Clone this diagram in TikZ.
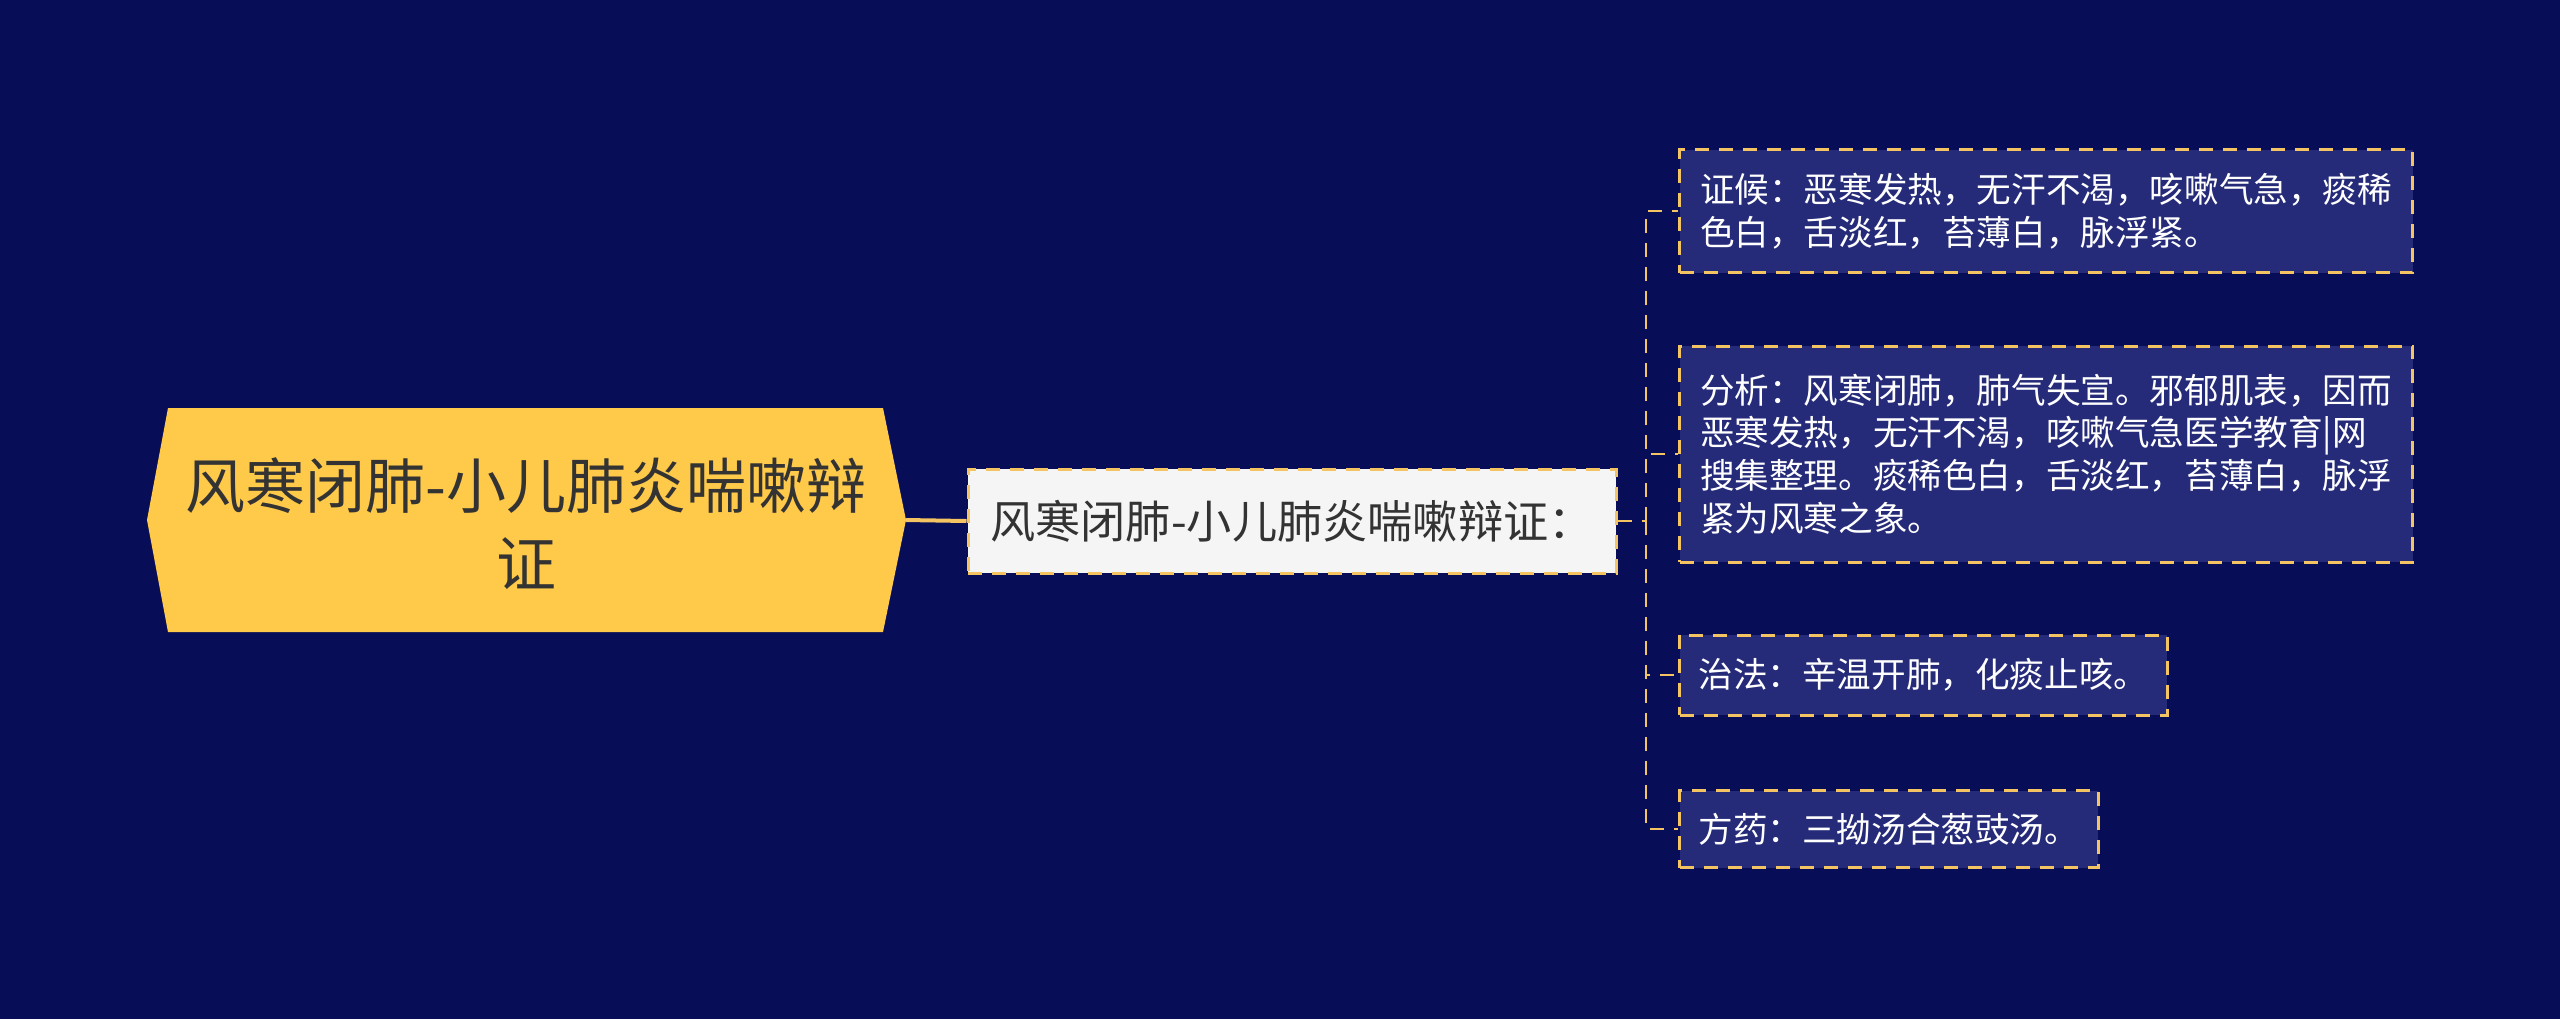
\documentclass[tikz,border=0pt]{standalone}
\usepackage{fontspec}
\setmainfont{Noto Sans CJK SC}
\definecolor{bgnavy}{HTML}{080D57}
\definecolor{rootyellow}{HTML}{FFC94A}
\definecolor{lineyellow}{HTML}{F4C463}
\definecolor{childnavy}{HTML}{252B78}
\definecolor{midgray}{HTML}{F5F5F5}
\definecolor{textdark}{HTML}{333333}
\tikzset{
  root_text/.style={text=textdark, align=center, font=\fontsize{30pt}{39pt}\selectfont},
  mid_box/.style={fill=midgray, draw=lineyellow, line width=1.5pt, dash pattern=on 7pt off 5pt,
      text=textdark, font=\fontsize{22.6pt}{28pt}\selectfont, inner xsep=11pt},
  child_box/.style={fill=childnavy, draw=lineyellow, line width=1.5pt, dash pattern=on 7pt off 5pt,
      text=white, align=left, anchor=west, inner xsep=9.5pt, font=\fontsize{17.3pt}{21.3pt}\selectfont},
  link/.style={draw=lineyellow, line width=1.3pt, dash pattern=on 7pt off 5pt},
}
\begin{document}
\begin{tikzpicture}[x=0.5pt,y=-0.5pt]
  \fill[bgnavy] (0,0) rectangle (2560,1019);
  \useasboundingbox (0,0) rectangle (2560,1019);
  % root hexagon
  \coordinate (rootW) at (147,520);
  \coordinate (rootE) at (906,520);
  \fill[rootyellow] (rootW) -- (168,408) -- (883,408) -- (rootE) -- (883,632) -- (168,632) -- cycle;
  \node[root_text] (root) at (526,524) {风寒闭肺-小儿肺炎喘嗽辩\\证};
  \node[mid_box, minimum width=324pt, minimum height=52pt] (mid) at (1292,521) {风寒闭肺-小儿肺炎喘嗽辩证：};
  \draw[lineyellow, line width=2pt] (rootE) -- (mid.west);
  % children
  \node[child_box, minimum width=366.5pt, minimum height=61.5pt] (c1) at (1678,211)
      {证候：恶寒发热，无汗不渴，咳嗽气急，痰稀\\色白，舌淡红，苔薄白，脉浮紧。};
  \node[child_box, minimum width=366.5pt, minimum height=108pt] (c2) at (1678,454)
      {分析：风寒闭肺，肺气失宣。邪郁肌表，因而\\恶寒发热，无汗不渴，咳嗽气急医学教育|网\\搜集整理。痰稀色白，舌淡红，苔薄白，脉浮\\紧为风寒之象。};
  \node[child_box, minimum height=40pt] (c3) at (1678,675) {治法：辛温开肺，化痰止咳。};
  \node[child_box, minimum height=38.5pt] (c4) at (1678,829) {方药：三拗汤合葱豉汤。};
  \coordinate (bus) at (1646,521);
  \draw[link] (mid.east) -- (bus);
  \foreach \c in {c1,c2,c3,c4} {
      \draw[link] (bus) |- (\c.west);
    }
\end{tikzpicture}
\end{document}
